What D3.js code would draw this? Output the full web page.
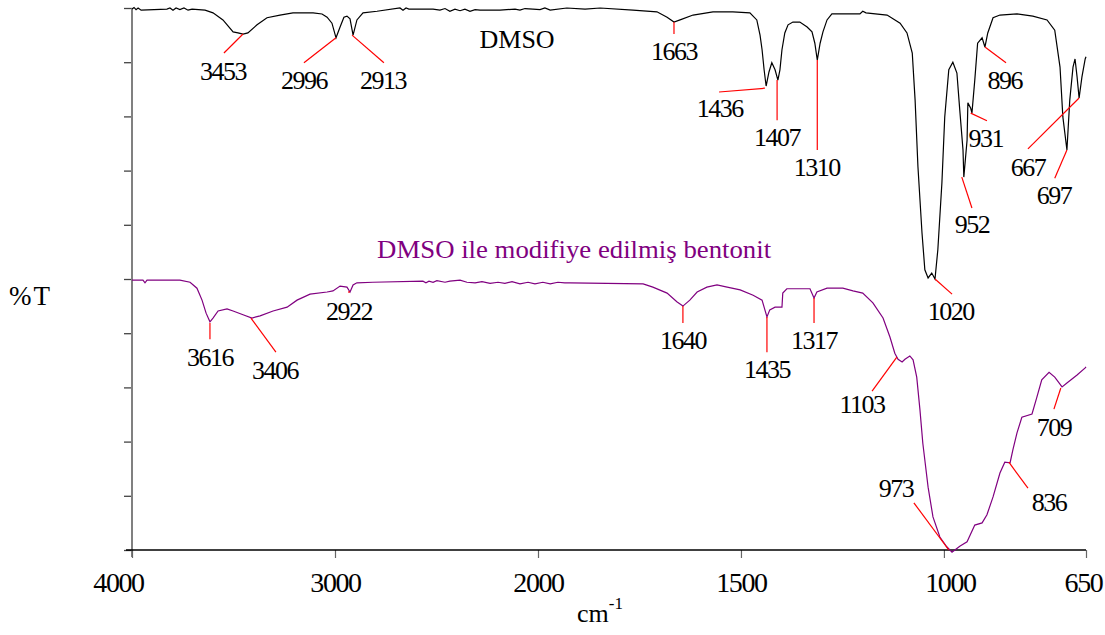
<!DOCTYPE html>
<html>
<head>
<meta charset="utf-8">
<script src="https://cdn.jsdelivr.net/npm/d3@7/dist/d3.min.js"></script>
<style>
body{margin:0;background:#fff;}
svg{display:block;}
</style>
</head>
<body>
<div id="chart"></div>
<script>
var serif="'Liberation Serif','Times New Roman',serif";

// x breakpoints of the (two-speed) wavenumber axis
var xDomain=[4000,2000,650];
var xTicks=[4000,3000,2000,1500,1000,650];
var yTicks=[0,10,20,30,40,50,60,70,80,90,100];

// DMSO spectrum: wavenumber, %T (offset)
var dmsoW=[4000,3990,3980,3970,3955,3828,3813,3798,3783,3764,3744,3724,3704,3640,3601,3552,3502,3478,3453,3429,3384,3335,3271,3207,3108,3064,3039,3015,2995,2975,2956,2941,2926,2911,2892,2862,2793,2680,2665,2650,2636,2517,2483,2458,2434,2409,2384,2360,2335,2310,2286,2187,2113,2089,2064,2025,1995,1983,1970,1929,1884,1847,1766,1707,1682,1665,1650,1618,1569,1520,1478,1461,1453,1448,1443,1438,1431,1424,1416,1409,1404,1399,1392,1384,1372,1355,1337,1325,1318,1312,1305,1298,1288,1276,1207,1200,1192,1140,1108,1091,1078,1071,1064,1054,1047,1039,1030,1022,1015,1005,998,988,978,968,961,953,951,943,941,934,931,924,917,906,899,892,879,862,820,781,746,727,714,707,697,690,682,677,672,667,660,652,650];
var dmsoT=[99.8,100.1,99.7,100,99.6,99.8,100,99.6,100,99.7,100,99.6,99.8,99.6,99.1,97.8,95.6,95.4,95.2,95.4,96.9,98.2,98.7,99.1,99.1,98.9,98.3,97.2,94.5,96.5,98.3,98.5,98.0,95.0,97.8,99.1,99.4,100,99.6,100,99.8,99.8,99.6,99.9,99.4,99.8,99.5,99.8,99.4,99.7,99.6,99.6,99.8,99.6,99.9,99.8,99.7,100,99.6,100,99.8,100,99.6,99.3,98.3,97.4,97.8,98.7,99.3,99.3,99.1,97.8,95.0,92.3,88.6,85.6,88.2,89.9,88.6,86.7,88.6,92.3,95.4,96.9,97.4,97.4,96.5,95.6,93.5,90.4,93.5,95.6,97.8,98.9,98.9,99.4,99.1,98.7,97.2,95.4,91.7,83.0,70.7,58.5,51.7,50.2,51.1,50.0,55.4,67.7,79.9,88.6,90.0,88.0,81.2,73.8,68.8,75.6,82.5,81.5,80.6,86.7,93.5,94.5,92.8,95.4,98.2,98.7,98.9,98.5,97.8,95.9,89.1,79.9,73.8,83.0,89.1,90.6,87.3,83.4,87.3,90.6,91.0];

// DMSO-modified bentonite spectrum
var bentW=[4000,3946,3936,3926,3764,3714,3680,3655,3635,3616,3601,3576,3532,3502,3453,3409,3369,3305,3236,3187,3123,3039,3010,2975,2941,2926,2911,2892,2813,2567,2552,2537,2517,2498,2458,2434,2384,2350,2310,2276,2236,2197,2163,2128,2089,2049,2015,1988,1970,1951,1934,1921,1741,1717,1682,1658,1643,1626,1608,1584,1559,1534,1502,1470,1448,1436,1429,1416,1399,1397,1387,1330,1320,1313,1288,1249,1224,1200,1175,1150,1133,1121,1113,1103,1096,1084,1076,1067,1059,1052,1039,1027,1010,993,980,973,961,943,924,906,894,879,862,850,837,830,820,808,783,771,759,741,727,709,697,672,652,650];
var bentT=[49.8,49.8,49.3,49.8,49.8,49.4,48.3,46.1,43.7,42.1,42.8,44.1,44.5,44.1,43.4,42.8,43.2,44.1,44.8,46.1,47.2,47.6,47.8,48.7,48.5,47.6,48.9,49.3,49.4,49.6,49.3,49.6,49.4,49.7,49.4,49.6,49.8,49.4,49.3,49.5,49.2,49.4,49.2,49.5,49.1,49.4,49.1,49.4,49.1,49.4,49.3,49.3,49.1,48.5,47.4,45.8,45.0,46.1,47.6,48.5,48.9,48.5,48.0,47.0,46.1,43.0,44.3,44.8,44.8,47.4,48.2,48.2,46.5,47.6,48.3,48.3,47.8,47.4,45.6,42.8,39.3,36.3,35.2,34.7,35.2,35.8,35.1,31.9,25.8,19.7,11.6,6.1,2.4,0.6,-0.4,0,0.7,1.5,4.6,5.0,6.5,9.8,14.2,16.2,16.1,18.5,21.6,24.5,25.1,28.2,31.4,32.8,31.9,30.1,30.8,32.3,33.6,33.8];

// peak labels: text, leader from (w1,t1) to (w2,t2), label at (lw,lt)
var dmsoPeaks=[
  ["3453",3453,95.2,3547,91.7,3552,86.7],
  ["2996",2995,94.5,3153,89.9,3153,85.1],
  ["2913",2916,95.0,2759,89.9,2764,85.1],
  ["1663",1665,97.4,1665,95.2,1665,90.4],
  ["1436",1441,85.2,1554,84.5,1552,79.9],
  ["1407",1411,86.7,1411,79.3,1411,74.5],
  ["1310",1312,90.4,1312,73.8,1313,69.0],
  ["1020",1022,50.0,980,47.2,983,42.4],
  ["952",956,68.8,931,63.1,931,58.5],
  ["931",934,80.6,894,79.2,897,74.4],
  ["896",899,92.8,847,89.9,850,85.1],
  ["667",667,83.4,793,74.0,793,69.0],
  ["697",697,73.8,727,68.6,729,63.8]
];
var bentPeaks=[
  ["3616",3616,41.9,3616,38.9,3616,33.9],
  ["3406",3414,42.8,3291,36.5,3296,31.5],
  ["2922",2931,47.8,2931,47.4,2931,42.4],
  ["1640",1643,45.0,1643,41.9,1643,37.1],
  ["1435",1436,43.0,1436,36.5,1436,31.7],
  ["1317",1320,46.5,1320,41.9,1320,37.1],
  ["1103",1116,35.6,1177,29.3,1202,25.3],
  ["973",988,0,1074,8.7,1118,9.8],
  ["836",840,16.2,793,11.4,741,7.2],
  ["709",712,29.9,729,26.0,729,21.0]
];
var dmsoTitle=["DMSO",2103,92.6];
var bentTitle=["DMSO ile modifiye edilmiş bentonit",1911,53.9];

var width=1105,height=635;
var svg=d3.select("#chart").append("svg").attr("width",width).attr("height",height)
  .attr("font-family",serif);

var x=d3.scaleLinear().domain(xDomain).range([132,538,1086]);
var y=d3.scaleLinear().domain([0,100]).range([550,8]);

// y axis
var yAxis=svg.append("g").attr("transform","translate(132,0)")
  .call(d3.axisLeft(y).tickValues(yTicks).tickSize(8).tickFormat(""));
yAxis.select(".domain").remove();
yAxis.selectAll(".tick line").attr("stroke","#444").attr("stroke-width",1.3);
svg.append("line").attr("x1",132).attr("x2",132).attr("y1",y(100)).attr("y2",y(0)+7)
  .attr("stroke","#808080").attr("stroke-width",2);

// x axis
var xAxis=svg.append("g").attr("transform","translate(0,"+y(0)+")")
  .call(d3.axisBottom(x).tickValues(xTicks).tickSize(8).tickPadding(14).tickFormat(d3.format("d")));
xAxis.attr("font-family",serif);
xAxis.select(".domain").remove();
xAxis.selectAll(".tick line").attr("stroke","#666").attr("stroke-width",1.2);
xAxis.selectAll(".tick text").attr("fill","#000").style("font-family",serif)
  .style("font-size","28px").style("letter-spacing","-1.4px")
  .attr("dy","0.71em").attr("dx",function(d){return d==4000?-14:(d==1000?6:(d==650?-3:0));});
svg.append("line").attr("x1",126).attr("x2",x(650)).attr("y1",y(0)).attr("y2",y(0))
  .attr("stroke","#000").attr("stroke-width",1.6);

// spectra
var line=d3.line().x(function(d){return x(d[0]);}).y(function(d){return y(d[1]);});
svg.append("path").datum(d3.zip(dmsoW,dmsoT)).attr("d",line)
  .attr("fill","none").attr("stroke","#000").attr("stroke-width",1.2);
svg.append("path").datum(d3.zip(bentW,bentT)).attr("d",line)
  .attr("fill","none").attr("stroke","#800080").attr("stroke-width",1.2);

// peak leaders + labels
function drawPeaks(arr){
  var g=svg.append("g");
  g.selectAll("line").data(arr).enter().append("line")
    .attr("x1",function(d){return x(d[1]);}).attr("y1",function(d){return y(d[2]);})
    .attr("x2",function(d){return x(d[3]);}).attr("y2",function(d){return y(d[4]);})
    .attr("stroke","#ff0000").attr("stroke-width",1.2);
  g.selectAll("text").data(arr).enter().append("text")
    .attr("x",function(d){return x(d[5]);}).attr("y",function(d){return y(d[6]);})
    .attr("text-anchor","middle").style("font-family",serif).style("font-size","26px").style("letter-spacing","-1.5px")
    .attr("fill","#000").text(function(d){return d[0];});
}
drawPeaks(dmsoPeaks);
drawPeaks(bentPeaks);

svg.append("text").attr("x",x(dmsoTitle[1])).attr("y",y(dmsoTitle[2])).attr("text-anchor","middle")
  .style("font-family",serif).style("font-size","26px").attr("fill","#000").text(dmsoTitle[0]);
svg.append("text").attr("x",x(bentTitle[1])).attr("y",y(bentTitle[2])).attr("text-anchor","middle")
  .style("font-family",serif).style("font-size","26px").attr("textLength",394).attr("lengthAdjust","spacingAndGlyphs")
  .attr("fill","#800080").text(bentTitle[0]);

// axis titles
svg.append("text").attr("x",9).attr("y",305).style("font-family",serif).style("font-size","27px")
  .style("letter-spacing","2px").text("%T");
var xt=svg.append("text").attr("x",577).attr("y",622).style("font-family",serif).style("font-size","26px");
xt.append("tspan").text("cm");
xt.append("tspan").attr("dy",-13).style("font-size","17px").text("-1");
</script>
</body>
</html>
